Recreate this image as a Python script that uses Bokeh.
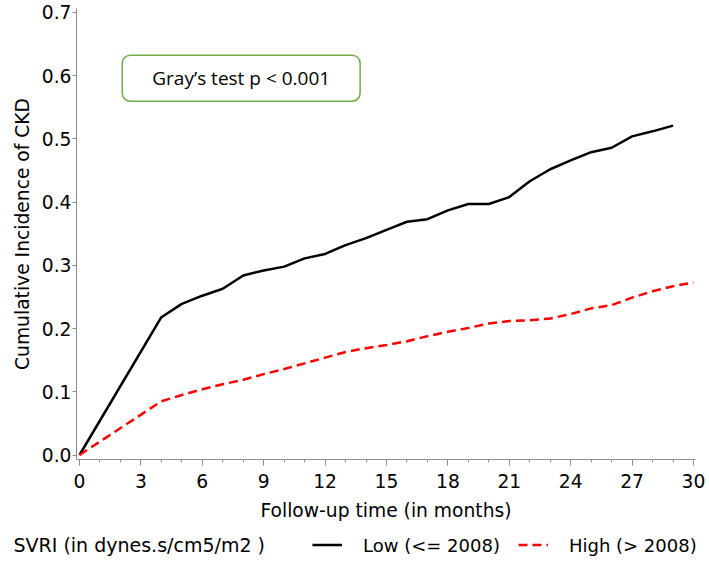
from bokeh.plotting import figure
from bokeh.layouts import column
from bokeh.models import (Range1d, SingleIntervalTicker, PrintfTickFormatter, Legend,
                          LegendItem, Label, Plot)
from bokeh.embed import file_html
from bokeh.resources import INLINE

# ---- data ----
low_t = [0, 4, 5, 6, 7, 8, 9, 10, 11, 12, 13, 14, 15, 16, 17, 18, 19, 20, 21, 22,
         23, 24, 25, 26, 27, 28, 29]
low_ci = [0.0, 0.218, 0.239, 0.252, 0.263, 0.284, 0.292, 0.298, 0.311, 0.318, 0.332,
          0.343, 0.356, 0.369, 0.373, 0.387, 0.397, 0.397, 0.408, 0.433, 0.452, 0.466,
          0.479, 0.486, 0.504, 0.512, 0.521]
high_t = [0, 4, 5, 6, 7, 8, 9, 10, 11, 12, 13, 14, 15, 16, 17, 18, 19, 20, 21, 22,
          23, 24, 25, 26, 27, 28, 29, 30]
high_ci = [0.0, 0.085, 0.095, 0.104, 0.112, 0.119, 0.128, 0.136, 0.145, 0.154, 0.163,
           0.169, 0.174, 0.180, 0.188, 0.195, 0.201, 0.208, 0.212, 0.213, 0.216, 0.223,
           0.232, 0.237, 0.249, 0.259, 0.267, 0.273]
series_names = ["Low (<= 2008)", "High (> 2008)"]
legend_title = "SVRI (in dynes.s/cm5/m2 )"
x_label = "Follow-up time (in months)"
y_label = "Cumulative Incidence of CKD"
test_text = "Gray\u2019s test p < 0.001"
test_pos = (7.9, 0.596)

FONT = "DejaVu Sans"
AX_SIZE = "18.7px"
LOW_STYLE = dict(line_color="black", line_width=2.5)
HIGH_STYLE = dict(line_color="#ff0000", line_width=2.5, line_dash="9 5")
NAN = float("nan")
CAN_UNALIGN = "frame_align" in Plot.properties()

# ---------------- main chart ----------------
p = figure(width=709, height=528, output_backend="svg", toolbar_location=None,
           x_range=Range1d(-0.147, 30.098), y_range=Range1d(-0.0071, 0.7063),
           min_border_left=76, min_border_right=14, min_border_top=8,
           min_border_bottom=69)
p.outline_line_color = None
p.grid.visible = False

p.line(low_t, low_ci, **LOW_STYLE)
p.line(high_t, high_ci, **HIGH_STYLE)

xa = p.xaxis[0]
xa.ticker = SingleIntervalTicker(interval=3, num_minor_ticks=3)
ya = p.yaxis[0]
ya.ticker = SingleIntervalTicker(interval=0.1, num_minor_ticks=0)
ya.formatter = PrintfTickFormatter(format="%.1f")

for ax in (xa, ya):
    ax.axis_line_color = "#8c8c8c"
    ax.major_tick_line_color = "#8c8c8c"
    ax.minor_tick_line_color = "#8c8c8c"
    ax.major_tick_in = 0
    ax.minor_tick_in = 0
    ax.major_label_text_font = FONT
    ax.major_label_text_font_size = AX_SIZE
    ax.major_label_text_color = "black"
    ax.axis_label_text_font = FONT
    ax.axis_label_text_font_size = AX_SIZE
    ax.axis_label_text_font_style = "normal"
    ax.axis_label_text_color = "black"

xa.axis_label = x_label
xa.major_tick_out = 6
xa.minor_tick_out = 3
xa.major_label_standoff = 8
xa.axis_label_standoff = 9
ya.axis_label = y_label
ya.major_tick_out = 4
ya.major_label_standoff = 1
ya.axis_label_standoff = 6

lab_kwargs = dict(x=test_pos[0], y=test_pos[1], text=test_text,
                  text_font="Open Sans", text_font_size="19px", text_color="black",
                  text_align="center", text_baseline="middle",
                  border_line_color="#70ad47", border_line_width=1.5,
                  background_fill_color="white")
props = Label.properties()
if "padding" in props:
    lab_kwargs["padding"] = dict(left=30, right=30, top=10, bottom=10)
if "border_radius" in props:
    lab_kwargs["border_radius"] = 8
p.add_layout(Label(**lab_kwargs))

# ---------------- legend strip (its own full-width frame, in page pixels) ----------------
q = figure(width=709, height=33, output_backend="svg", toolbar_location=None,
           x_range=Range1d(0, 709), y_range=Range1d(0, 1),
           x_axis_location=None, y_axis_location=None, min_border=0)
if CAN_UNALIGN:
    q.frame_align = False
    p.frame_align = False
q.outline_line_color = None
q.grid.visible = False
# legend-key carriers only (no visible data)
k_low = q.line([NAN], [NAN], **LOW_STYLE)
k_high = q.line([NAN], [NAN], **HIGH_STYLE)
legend = Legend(items=[LegendItem(label=series_names[0], renderers=[k_low]),
                       LegendItem(label=series_names[1], renderers=[k_high])],
                orientation="horizontal", location="center_left", margin=312,
                padding=0, spacing=18, label_standoff=21, glyph_width=30,
                glyph_height=20, border_line_color=None, background_fill_alpha=0,
                label_text_font=FONT, label_text_font_size="18px",
                label_text_color="black")
q.add_layout(legend, "center")
q.add_layout(Label(x=13, y=0.5, text=legend_title, text_font=FONT,
                   text_font_size="19px", text_color="black",
                   text_baseline="middle"))

open("out.html", "w").write(file_html(column(p, q, spacing=0), INLINE))
